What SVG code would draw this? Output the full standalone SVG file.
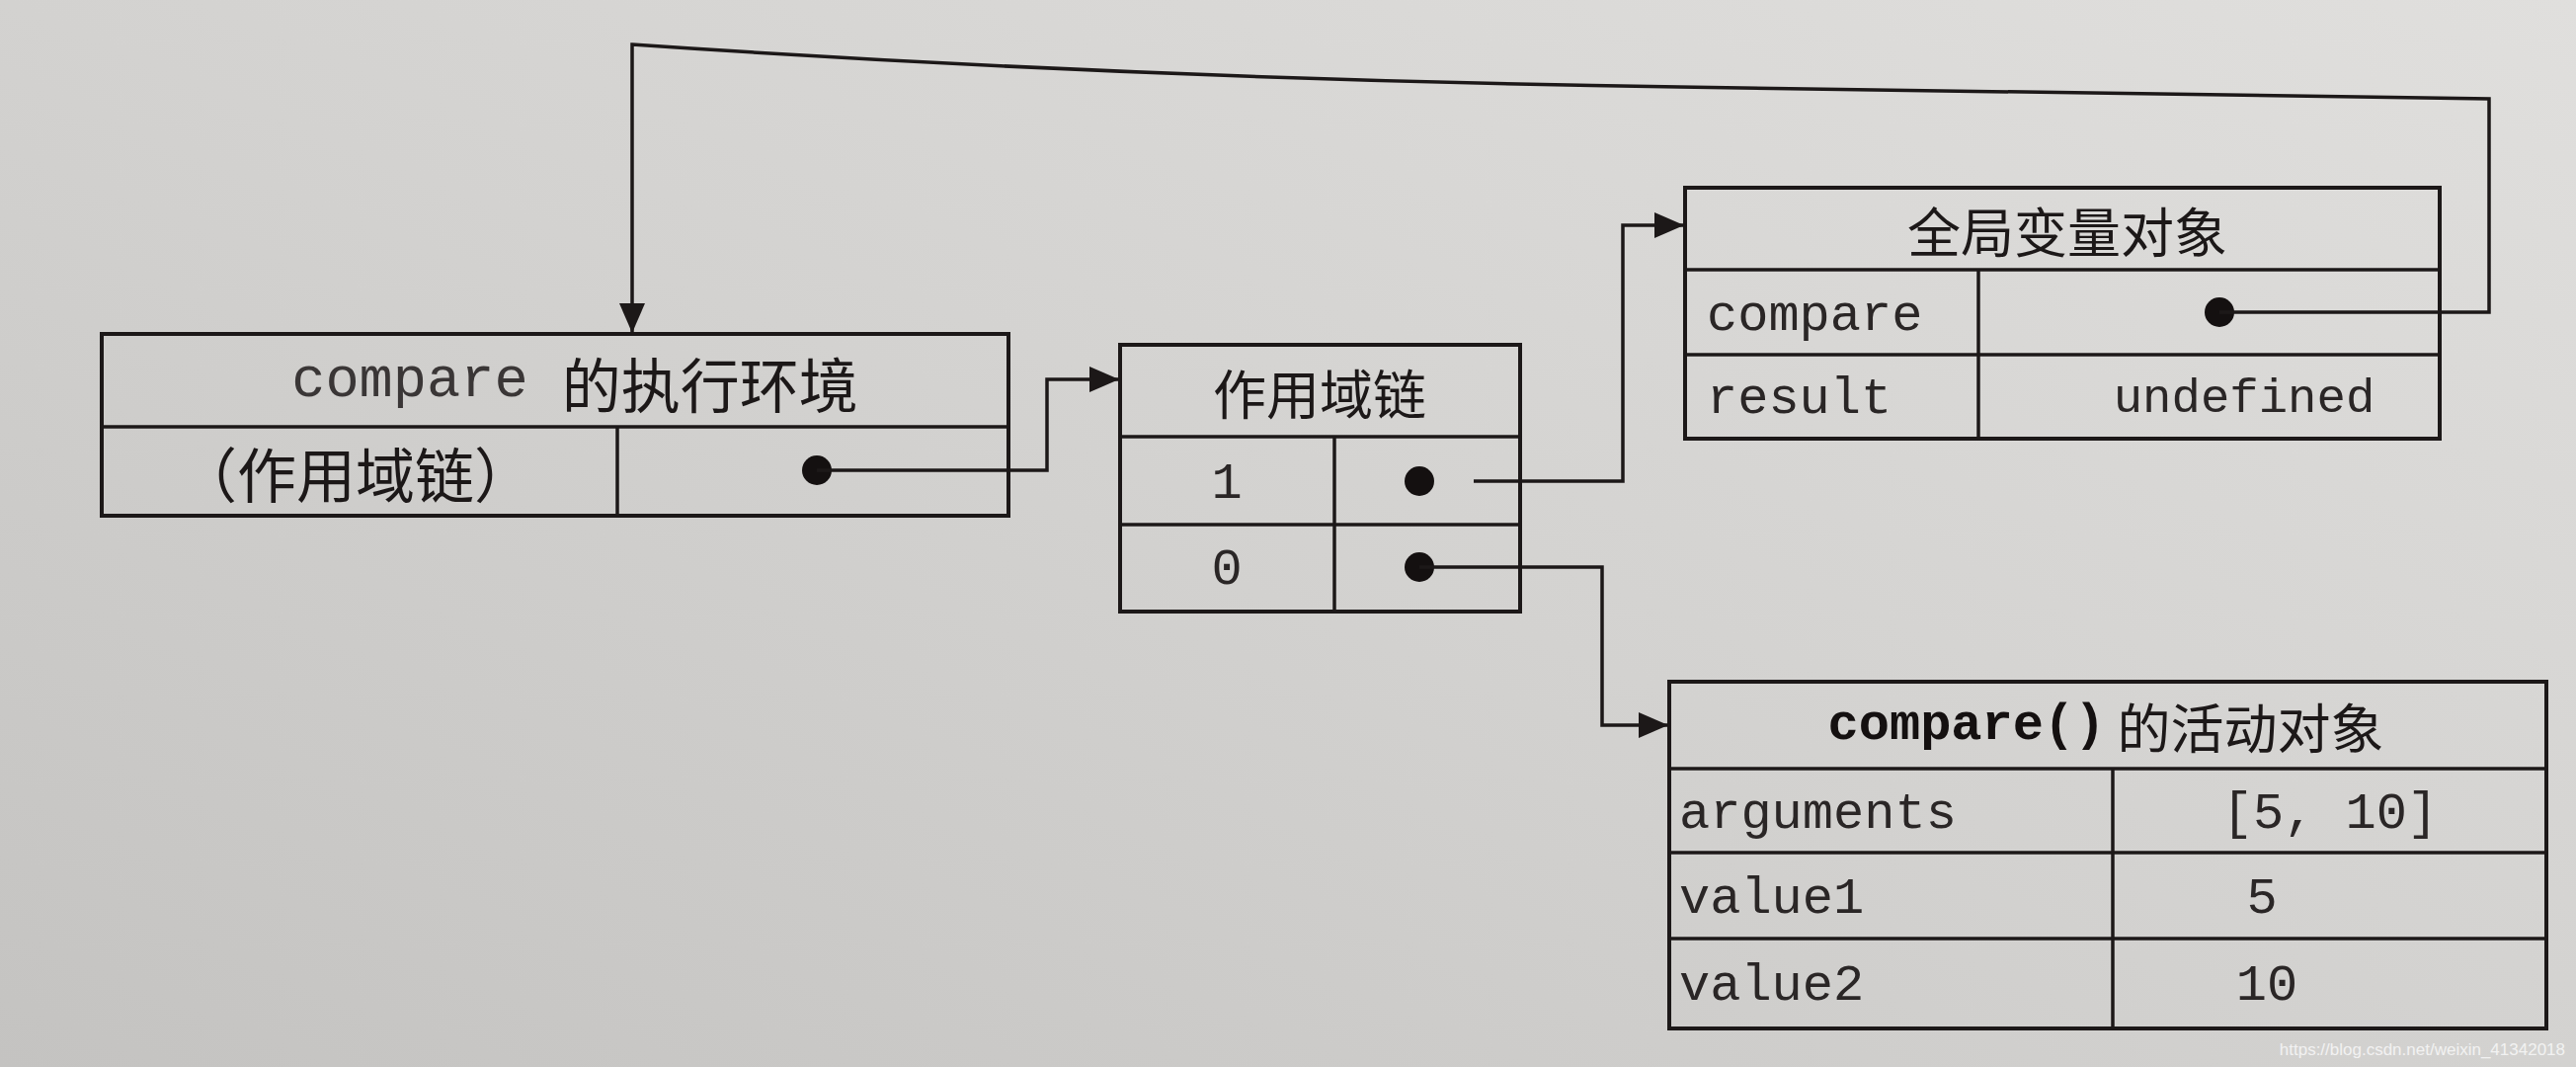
<svg xmlns="http://www.w3.org/2000/svg" width="2608" height="1080" viewBox="0 0 2608 1080">
<defs>
<linearGradient id="paper" x1="1" y1="0" x2="0" y2="1">
<stop offset="0" stop-color="#e0dfdd"/>
<stop offset="0.5" stop-color="#d3d2d0"/>
<stop offset="1" stop-color="#c4c3c1"/>
</linearGradient>
<marker id="arr" markerUnits="userSpaceOnUse" markerWidth="32" markerHeight="26" refX="30" refY="13" orient="auto">
<path d="M0,0 L30,13 L0,26 Z" fill="#1c1818"/>
</marker>
<style>
.box{fill:none;stroke:#1c1818;stroke-width:4}
.ln{fill:none;stroke:#1c1818;stroke-width:3.5}
.conn{fill:none;stroke:#1c1818;stroke-width:3.5}
.dot{fill:#141010}
.mono{font-family:"Liberation Mono","Noto Sans CJK SC",monospace;font-size:52px;fill:#2a2626}
.cjk{font-family:"Noto Sans CJK SC","Noto Sans",sans-serif;font-size:54px;fill:#1c1818}
.mid{text-anchor:middle}
.wm{font-family:"Liberation Sans",Arial,sans-serif;font-size:17px;fill:#f2f2f2}
</style>
</defs>
<rect width="2608" height="1080" fill="url(#paper)"/>

<g id="exec-env">
<rect class="box" x="103" y="338" width="918" height="184"/>
<line class="ln" x1="103" y1="432" x2="1021" y2="432"/>
<line class="ln" x1="625" y1="432" x2="625" y2="522"/>
<text x="582" y="386" class="mid" dominant-baseline="central"><tspan class="mono" style="font-size:57px;fill:#3a3636">compare </tspan><tspan class="cjk" style="font-size:60px">的执行环境</tspan></text>
<text x="360" y="477" class="cjk mid" style="font-size:60px" dominant-baseline="central">（作用域链）</text>
<circle class="dot" cx="827" cy="476" r="15"/>
</g>

<g id="scope-chain">
<rect class="box" x="1134" y="349" width="405" height="270"/>
<line class="ln" x1="1134" y1="442" x2="1539" y2="442"/>
<line class="ln" x1="1134" y1="531" x2="1539" y2="531"/>
<line class="ln" x1="1351" y1="442" x2="1351" y2="619"/>
<text x="1336" y="396" class="cjk mid" dominant-baseline="central">作用域链</text>
<text x="1242" y="490" class="mono mid" dominant-baseline="central">1</text>
<text x="1242" y="577" class="mono mid" dominant-baseline="central">0</text>
<circle class="dot" cx="1437" cy="487" r="15"/>
<circle class="dot" cx="1437" cy="574" r="15"/>
</g>

<g id="global-object">
<rect class="box" x="1706" y="190" width="764" height="254"/>
<line class="ln" x1="1706" y1="273" x2="2470" y2="273"/>
<line class="ln" x1="1706" y1="359" x2="2470" y2="359"/>
<line class="ln" x1="2003" y1="273" x2="2003" y2="444"/>
<text x="2093" y="232" class="cjk mid" dominant-baseline="central">全局变量对象</text>
<text x="1728" y="320" class="mono" dominant-baseline="central">compare</text>
<text x="1728" y="404" class="mono" dominant-baseline="central">result</text>
<text x="2272" y="404" class="mono mid" style="font-size:49px" dominant-baseline="central">undefined</text>
<circle class="dot" cx="2247" cy="316" r="15"/>
</g>

<g id="activation-object">
<rect class="box" x="1690" y="690" width="888" height="351"/>
<line class="ln" x1="1690" y1="778" x2="2578" y2="778"/>
<line class="ln" x1="1690" y1="863" x2="2578" y2="863"/>
<line class="ln" x1="1690" y1="950" x2="2578" y2="950"/>
<line class="ln" x1="2139" y1="778" x2="2139" y2="1041"/>
<text x="2132" y="734" class="mid" dominant-baseline="central"><tspan class="mono" style="font-weight:bold;fill:#141010">compare()</tspan><tspan class="cjk"> 的活动对象</tspan></text>
<text x="1700" y="824" class="mono" dominant-baseline="central">arguments</text>
<text x="2359" y="824" class="mono mid" dominant-baseline="central">[5, 10]</text>
<text x="1700" y="910" class="mono" dominant-baseline="central">value1</text>
<text x="2290" y="910" class="mono mid" dominant-baseline="central">5</text>
<text x="1700" y="998" class="mono" dominant-baseline="central">value2</text>
<text x="2295" y="998" class="mono mid" dominant-baseline="central">10</text>
</g>

<g id="connectors">
<path class="conn" d="M827,476 L1060,476 L1060,384 L1133,384" marker-end="url(#arr)"/>
<path class="conn" d="M1492,487 L1643,487 L1643,228 L1705,228" marker-end="url(#arr)"/>
<path class="conn" d="M1437,574 L1622,574 L1622,734 L1689,734" marker-end="url(#arr)"/>
<path class="conn" d="M2247,316 L2520,316 L2520,100 L1700,88 Q1150,80 640,45 L640,337" marker-end="url(#arr)"/>
</g>

<text x="2597" y="1062" class="wm" text-anchor="end" dominant-baseline="central">https://blog.csdn.net/weixin_41342018</text>
</svg>
